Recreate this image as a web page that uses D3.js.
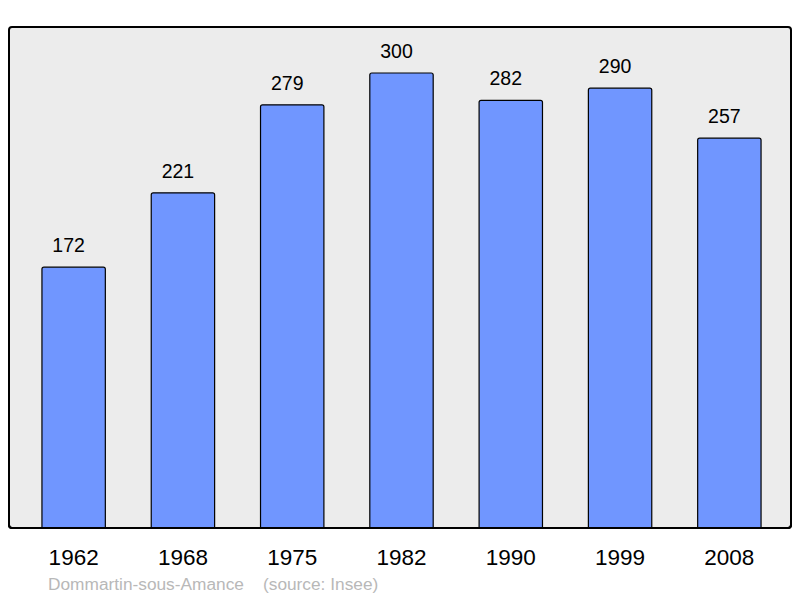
<!DOCTYPE html>
<html><head><meta charset="utf-8">
<script src="https://cdn.jsdelivr.net/npm/d3@7"></script>
<style>html,body{margin:0;padding:0;background:#fff;}svg{display:block;font-family:"Liberation Sans",Arial,sans-serif;}</style>
</head><body>
<script>
const years = ["1962","1968","1975","1982","1990","1999","2008"];
const population = [172,221,279,300,282,290,257];
const commune = "Dommartin-sous-Amance";
const source = "(source: Insee)";

const W = 800, H = 598;
const svg = d3.select("body").append("svg").attr("width", W).attr("height", H);

const x = d3.scaleBand().domain(years).range([19, 784]).paddingInner(0.42).paddingOuter(0.21);
const y = d3.scaleLinear().domain([0, 300]).range([528, 73]);

svg.append("rect").attr("x", 9).attr("y", 27).attr("width", 782).attr("height", 501)
  .attr("rx", 3).attr("fill", "#ececec").attr("stroke", "#000").attr("stroke-width", 2);

const data = years.map((yr, i) => ({yr, v: population[i]}));

svg.selectAll("rect.bar").data(data).enter().append("rect").attr("class", "bar")
  .attr("x", d => x(d.yr)).attr("y", d => y(d.v))
  .attr("width", x.bandwidth()).attr("height", d => y(0) - y(d.v) + 3)
  .attr("rx", 2).attr("fill", "#7096ff").attr("stroke", "#000").attr("stroke-width", 1.2);

svg.append("rect").attr("x", 0).attr("y", 529).attr("width", W).attr("height", 6).attr("fill", "#fff");
svg.append("path").attr("d", "M9,520 L9,525 Q9,528 12,528 L788,528 Q791,528 791,525 L791,520")
  .attr("fill", "none").attr("stroke", "#000").attr("stroke-width", 2);

svg.selectAll("text.val").data(data).enter().append("text").attr("class", "val")
  .attr("x", d => x(d.yr) + x.bandwidth() / 2 - 5).attr("y", d => y(d.v) - 15)
  .attr("text-anchor", "middle").attr("font-size", 19.5).attr("fill", "#000").text(d => d.v);

const xAxis = svg.append("g").attr("transform", "translate(0,528)")
  .call(d3.axisBottom(x).tickSize(0).tickPadding(0));
xAxis.select(".domain").remove();
xAxis.selectAll("text").attr("font-size", 22.5).attr("fill", "#000")
  .attr("font-family", "'Liberation Sans',Arial,sans-serif").attr("dy", null).attr("y", 36.5);

svg.append("text").attr("x", 48).attr("y", 590).attr("font-size", 17.3).attr("fill", "#b8b8b8").text(commune);
svg.append("text").attr("x", 263).attr("y", 590).attr("font-size", 17.3).attr("fill", "#b8b8b8").text(source);
</script>
</body></html>
